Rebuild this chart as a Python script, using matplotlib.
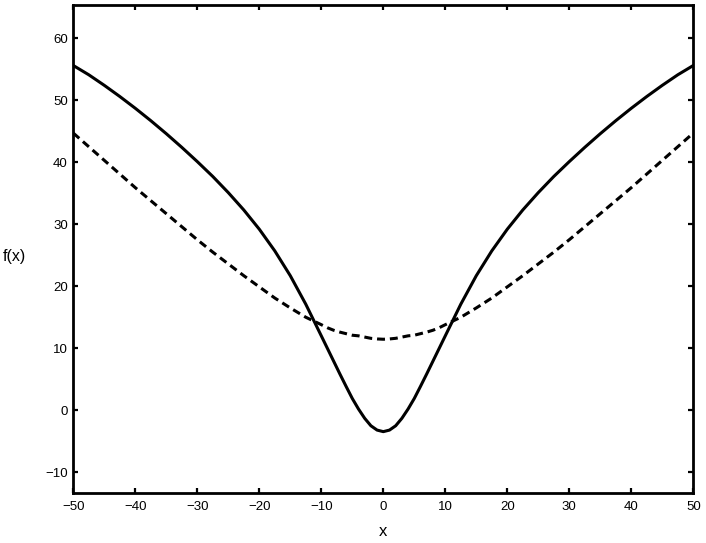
import matplotlib
matplotlib.use("Agg")
import matplotlib.pyplot as plt

# --- data (symmetric about x = 0) ---
x_half = [0, 1, 2, 3, 4, 5, 6, 7, 8, 9, 10, 12.5, 15, 17.5, 20, 22.5, 25,
          27.5, 30, 32.5, 35, 37.5, 40, 42.5, 45, 47.5, 50]
solid_half = [-3.45, -3.2, -2.5, -1.3, 0.2, 1.9, 3.85, 5.85, 7.9, 9.95,
              12.0, 17.1, 21.7, 25.7, 29.2, 32.3, 35.1, 37.7, 40.1, 42.4,
              44.6, 46.7, 48.7, 50.6, 52.4, 54.1, 55.6]
dashed_half = [11.45, 11.5, 11.6, 11.8, 12.0, 12.1, 12.35, 12.6, 12.9,
               13.3, 13.8, 15.0, 16.5, 18.1, 19.9, 21.7, 23.6, 25.5, 27.5,
               29.6, 31.7, 33.8, 35.9, 38.1, 40.3, 42.5, 44.7]

x_vals = [-v for v in x_half[:0:-1]] + x_half
solid_vals = solid_half[:0:-1] + solid_half
dashed_vals = dashed_half[:0:-1] + dashed_half

x_ticks = [-50, -40, -30, -20, -10, 0, 10, 20, 30, 40, 50]
y_ticks = [-10, 0, 10, 20, 30, 40, 50, 60]

plt.rcParams['font.family'] = ['Liberation Sans', 'DejaVu Sans']

fig = plt.figure(figsize=(7.06, 5.43), dpi=100)
ax = fig.add_axes([0.1038, 0.0926, 0.8782, 0.8987])

ax.plot(x_vals, solid_vals, color='black', lw=2.2, solid_joinstyle='round')
ax.plot(x_vals, dashed_vals, color='black', lw=2.2, dashes=(2.6, 1.6))

ax.set_xlim(-50, 50)
ax.set_ylim(-13.3, 65.4)
ax.set_xticks(x_ticks)
ax.set_yticks(y_ticks)

for s in ax.spines.values():
    s.set_linewidth(2.0)
ax.tick_params(direction='in', length=3.6, width=1.6, top=True, right=True,
               labelsize=9.5, colors='black')
ax.tick_params(axis='x', pad=6)
ax.tick_params(axis='y', pad=4)

ax.set_xlabel('x', fontsize=12)
ax.xaxis.set_label_coords(0.5, -0.065)
ax.set_ylabel('f(x)', fontsize=11.5, rotation=0, ha='center', va='center')
ax.yaxis.set_label_coords(-0.095, 0.485)

fig.savefig('out.png', dpi=100)
